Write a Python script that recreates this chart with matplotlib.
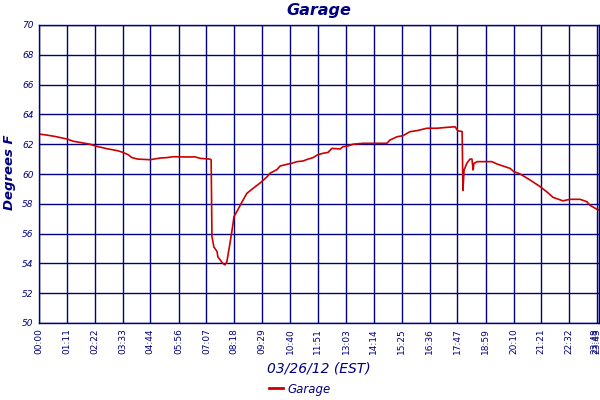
import matplotlib
matplotlib.use("Agg")
import matplotlib.pyplot as plt
from matplotlib.lines import Line2D

# time in minutes after midnight, temperature in deg F
minutes = [0, 18, 41, 71, 87, 130, 148, 173, 201, 214, 227, 237, 252, 283, 309, 326,
           342, 377, 398, 411, 436, 439, 441, 446, 454, 456, 467, 474, 479, 487, 495,
           497, 505, 518, 530, 546, 564, 581, 589, 597, 607, 615, 632, 645, 658, 673,
           686, 699, 709, 724, 737, 747, 768, 775, 788, 801, 826, 887, 895, 913, 928,
           946, 964, 989, 1015, 1040, 1061, 1068, 1079, 1081, 1084, 1091, 1099, 1104,
           1107, 1109, 1117, 1155, 1168, 1201, 1211, 1227, 1252, 1278, 1295, 1311,
           1336, 1354, 1380, 1397, 1405, 1423, 1428]
temps = [62.68, 62.62, 62.52, 62.35, 62.2, 62.0, 61.85, 61.7, 61.56, 61.45, 61.3, 61.1,
         61.0, 60.96, 61.07, 61.1, 61.16, 61.14, 61.15, 61.05, 61.0, 60.95, 55.8, 55.1,
         54.8, 54.45, 54.05, 53.9, 54.1, 55.35, 56.7, 57.13, 57.5, 58.14, 58.7, 59.04,
         59.4, 59.8, 60.05, 60.16, 60.3, 60.54, 60.65, 60.72, 60.83, 60.87, 61.0, 61.1,
         61.27, 61.39, 61.45, 61.72, 61.68, 61.83, 61.88, 62.0, 62.06, 62.06, 62.28,
         62.5, 62.57, 62.84, 62.91, 63.07, 63.07, 63.13, 63.17, 62.9, 62.85, 58.9,
         60.27, 60.72, 61.0, 61.0, 60.27, 60.7, 60.83, 60.83, 60.67, 60.38, 60.16,
         60.0, 59.6, 59.15, 58.8, 58.43, 58.2, 58.3, 58.3, 58.14, 57.9, 57.63, 57.58]

tick_minutes = [0, 71, 142, 213, 284, 356, 427, 498, 569, 640, 711, 783, 854, 925,
                996, 1067, 1139, 1210, 1281, 1352, 1423, 1428]
tick_labels = ["00:00", "01:11", "02:22", "03:33", "04:44", "05:56", "07:07", "08:18",
               "09:29", "10:40", "11:51", "13:03", "14:14", "15:25", "16:36", "17:47",
               "18:59", "20:10", "21:21", "22:32", "23:43", "23:48"]
y_ticks = [50, 52, 54, 56, 58, 60, 62, 64, 66, 68, 70]

navy = "#000080"
red = "#cc0000"

fig = plt.figure(figsize=(6, 4), dpi=100)
ax = fig.add_axes([39/600, 1 - 323/400, 560/600, 298/400])
ax.plot(minutes, temps, color=red, lw=1.2)
ax.set_xlim(0, 1428)
ax.set_ylim(50, 70)
ax.set_xticks(tick_minutes)
labels = ax.set_xticklabels(tick_labels, rotation=90, fontsize=6.5, color=navy)
labels[-1].set_horizontalalignment("right")
ax.set_yticks(y_ticks)
ax.set_yticklabels([str(v) for v in y_ticks], fontsize=6.5, color=navy, style="italic")
ax.tick_params(length=0, pad=4)
ax.grid(True, color=navy, lw=1)
for s in ax.spines.values():
    s.set_color(navy)
    s.set_linewidth(1)

ax.set_title("Garage", fontsize=11.5, color=navy, style="italic", fontweight="bold", pad=7)
fig.text(10/600, 1 - 172/400, "Degrees F", fontsize=9.5, color=navy, style="italic",
         fontweight="bold", rotation=90, ha="center", va="center")
fig.text(319/600, 1 - 368/400, "03/26/12 (EST)", fontsize=10, color=navy,
         style="italic", ha="center", va="center")
handle = Line2D([], [], color=red, lw=2)
fig.legend([handle], ["Garage"], loc="center", bbox_to_anchor=(300/600, 1 - 389/400),
           frameon=False, prop={"size": 8.5, "style": "italic"}, labelcolor=navy,
           handlelength=1.2, handletextpad=0.4)

fig.savefig("out.png", dpi=100)
